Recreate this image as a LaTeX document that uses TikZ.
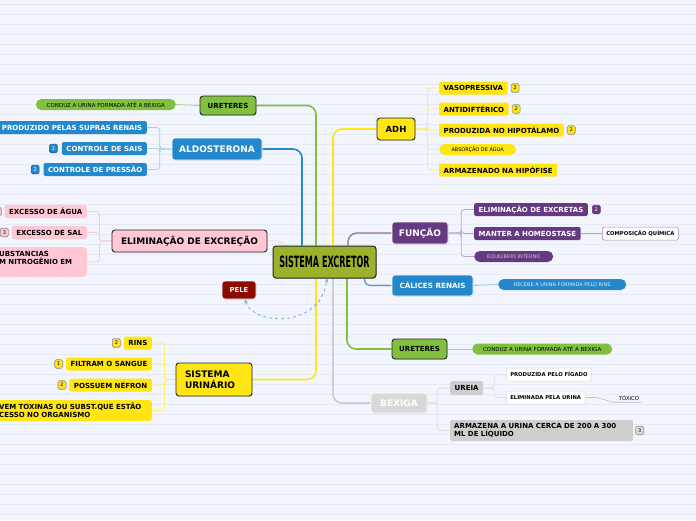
\documentclass[tikz,border=0pt]{standalone}
\usepackage{fontspec}
\setmainfont{DejaVu Sans}
\newfontfamily\condfont[FakeStretch=0.52]{DejaVu Sans}
\usepackage{xcolor}
\definecolor{paper}{RGB}{243,245,253}
\definecolor{ruleline}{RGB}{230,233,246}
\definecolor{mainolive}{RGB}{155,178,42}
\definecolor{cgreen}{RGB}{128,192,62}
\definecolor{cblue}{RGB}{36,136,204}
\definecolor{cyellow}{RGB}{255,229,20}
\definecolor{cpink}{RGB}{255,200,212}
\definecolor{cpurple}{RGB}{102,58,128}
\definecolor{cred}{RGB}{140,10,0}
\definecolor{cgray}{RGB}{206,206,206}
\definecolor{cgraylight}{RGB}{216,216,216}
\usetikzlibrary{arrows.meta,positioning,backgrounds,shadows}
\tikzset{
  >={Stealth[length=4pt,width=3.5pt]},
  shd/.style={drop shadow={opacity=0.2,shadow xshift=0.7pt,shadow yshift=-0.9pt}},
  core/.style={rectangle,draw=black!85,line width=1pt,rounded corners=3pt,fill=mainolive,minimum width=103pt,minimum height=32pt,font=\condfont\bfseries\fontsize{15.5}{16}\selectfont,shd},
  topic/.style={rectangle,draw=black!85,line width=0.9pt,rounded corners=3pt,inner sep=2pt,font=\bfseries\fontsize{9}{10.5}\selectfont,shd},
  topicw/.style={topic,draw=white,line width=0.6pt,text=white},
  item/.style={rectangle,rounded corners=2pt,inner xsep=4.5pt,inner ysep=1pt,minimum height=13pt,font=\bfseries\fontsize{7}{8.5}\selectfont},
  pill/.style={rectangle,rounded corners=5.5pt,inner xsep=5pt,inner ysep=1pt,minimum height=11pt,font=\fontsize{5.5}{6.5}\selectfont},
  leaf/.style={rectangle,rounded corners=1.5pt,fill=white,draw=black!15,line width=0.5pt,minimum height=13pt,inner xsep=4pt,font=\bfseries\fontsize{5.3}{6}\selectfont},
  badge/.style={rectangle,rounded corners=1.5pt,draw=black!45,line width=0.6pt,minimum width=8pt,minimum height=8.5pt,inner sep=0pt,font=\fontsize{5}{6}\selectfont},
  branch/.style={line width=1.6pt,rounded corners=9pt},
  twig/.style={line width=0.8pt,rounded corners=3pt},
  dashlink/.style={<->,dashed,line width=0.8pt,draw=cblue!70}
}

\begin{document}
\begin{tikzpicture}[x=1pt,y=-1pt]
  \useasboundingbox (0,0) rectangle (696,520);
  \begin{scope}[on background layer]
    \fill[paper] (0,0) rectangle (696,520);
    \foreach \yy in {4,14,...,514}
      \draw[ruleline,line width=0.6pt] (0,\yy) -- (696,\yy);
  \end{scope}

  % Central topic
  \node[core] (ctr) at (324.5,262) {SISTEMA EXCRETOR};

  % Left: ureteres
  \node[topic,fill=cgreen,minimum width=56pt,minimum height=19pt,font=\bfseries\fontsize{7}{8}\selectfont] (ur1) at (228,105.5) {URETERES};
  \node[pill,fill=cgreen,minimum width=140pt,anchor=east] (ur1c) at (176,104.5) {CONDUZ A URINA FORMADA ATÉ A BEXIGA};

  % Left: aldosterona
  \node[topicw,fill=cblue,minimum width=90pt,minimum height=22pt] (ald) at (217,149) {ALDOSTERONA};
  \node[item,fill=cblue,text=white,anchor=east] (a1) at (147,127.5) {PRODUZIDO PELAS SUPRAS RENAIS};
  \node[item,fill=cblue,text=white,anchor=east] (a2) at (147,148.5) {CONTROLE DE SAIS};
  \node[item,fill=cblue,text=white,anchor=east] (a3) at (147,169.5) {CONTROLE DE PRESSÃO};
  \node[badge,fill=cblue,draw=cblue!70!black,text=white,left=4pt of a2] (a2n) {2};
  \node[badge,fill=cblue,draw=cblue!70!black,text=white,left=4pt of a3] (a3n) {2};

  % Left: eliminacao
  \node[topic,fill=cpink,minimum width=155pt,minimum height=22pt] (elim) at (189.5,241) {ELIMINAÇÃO DE EXCREÇÃO};
  \node[item,fill=cpink,anchor=east] (e1) at (87,211.5) {EXCESSO DE ÁGUA};
  \node[item,fill=cpink,anchor=east] (e2) at (87,232.5) {EXCESSO DE SAL};
  \node[item,fill=cpink,anchor=west,align=left,text width=85pt,inner xsep=3pt,minimum height=30pt,rounded corners=4pt] (e3) at (-4,262) {UBSTANCIAS\\M NITROGÊNIO EM\\\mbox{}};
  \node[badge,fill=cpink,left=3pt of e1] (e1n) {2};
  \node[badge,fill=cpink,left=3pt of e2] (e2n) {3};

  % Left: sistema urinario
  \node[topic,fill=cyellow,text width=58pt,inner xsep=9pt,minimum height=33pt,align=left] (su) at (214,379.5) {SISTEMA\\URINÁRIO};
  \node[item,fill=cyellow,anchor=east] (s1) at (152,343) {RINS};
  \node[item,fill=cyellow,anchor=east] (s2) at (152,364) {FILTRAM O SANGUE};
  \node[item,fill=cyellow,anchor=east] (s3) at (152,385) {POSSUEM NÉFRON};
  \node[item,fill=cyellow,anchor=west,align=left,text width=150pt,inner xsep=3pt,minimum height=21pt,rounded corners=3pt] (s4) at (-4,410.5) {VEM TOXINAS OU SUBST.QUE ESTÃO\\CESSO NO ORGANISMO};
  \node[badge,fill=cyellow,left=3pt of s1] (s1n) {2};
  \node[badge,fill=cyellow,left=3pt of s2] (s2n) {1};
  \node[badge,fill=cyellow,left=3pt of s3] (s3n) {2};

  % Pele
  \node[topicw,fill=cred,minimum width=34pt,minimum height=18pt,font=\bfseries\fontsize{6.8}{8}\selectfont] (pele) at (239,290) {PELE};

  % Right: ADH
  \node[topic,fill=cyellow,minimum width=38pt,minimum height=22pt,font=\bfseries\fontsize{8.5}{10}\selectfont] (adh) at (396,129) {ADH};
  \node[item,fill=cyellow,anchor=west] (d1) at (439,88) {VASOPRESSIVA};
  \node[item,fill=cyellow,anchor=west] (d2) at (439,109) {ANTIDIFTÉRICO};
  \node[item,fill=cyellow,anchor=west] (d3) at (439,130) {PRODUZIDA NO HIPOTÁLAMO};
  \node[pill,fill=cyellow,minimum width=77pt,anchor=west,font=\fontsize{5}{6}\selectfont] (d4) at (439,149.5) {ABSORÇÃO DE ÁGUA};
  \node[item,fill=cyellow,anchor=west] (d5) at (439,170) {ARMAZENADO NA HIPÓFISE};
  \node[badge,fill=cyellow,right=3pt of d1] (d1n) {2};
  \node[badge,fill=cyellow,right=3pt of d2] (d2n) {2};
  \node[badge,fill=cyellow,right=3pt of d3] (d3n) {2};

  % Right: funcao
  \node[topicw,fill=cpurple,minimum width=56pt,minimum height=22pt] (fun) at (420,233) {FUNÇÃO};
  \node[item,fill=cpurple,text=white,anchor=west] (f1) at (474,209.5) {ELIMINAÇÃO DE EXCRETAS};
  \node[item,fill=cpurple,text=white,anchor=west] (f2) at (474,233.5) {MANTER A HOMEOSTASE};
  \node[pill,fill=cpurple,text=black!22,minimum width=79pt,anchor=west,font=\fontsize{5}{6}\selectfont] (f3) at (474,256.5) {EQUILÍBRIO INTERNO};
  \node[leaf,draw=cpurple!60,anchor=west] (f2c) at (602,233.5) {COMPOSIÇÃO QUÍMICA};
  \node[badge,fill=cpurple,draw=cpurple,text=white,right=4pt of f1] (f1n) {2};

  % Right: calices
  \node[topicw,fill=cblue,minimum width=81pt,minimum height=21pt,font=\bfseries\fontsize{7.2}{8.5}\selectfont] (cal) at (432.5,285.5) {CÁLICES RENAIS};
  \node[pill,fill=cblue,text=white!85!cblue,minimum width=128pt,anchor=west,font=\fontsize{5}{6}\selectfont] (calc) at (498,284.5) {RECEBE A URINA FORMADA PELO RINS};

  % Right: ureteres
  \node[topic,fill=cgreen,minimum width=55pt,minimum height=20pt,font=\bfseries\fontsize{7}{8}\selectfont] (ur2) at (419.5,349) {URETERES};
  \node[pill,fill=cgreen,minimum width=140pt,anchor=west] (ur2c) at (472,349) {CONDUZ A URINA FORMADA ATÉ A BEXIGA};

  % Right: bexiga
  \node[topicw,fill=cgraylight,minimum width=56pt,minimum height=20pt] (bex) at (399,403) {BEXIGA};
  \node[item,fill=cgray,anchor=west,minimum height=14pt] (x1) at (450,388) {UREIA};
  \node[item,fill=cgray,anchor=west,align=left,text width=175pt,inner xsep=4pt,minimum height=21pt] (x2) at (450,430.5) {ARMAZENA A URINA CERCA DE 200 A 300\\ML DE LÍQUIDO};
  \node[badge,fill=cgray!70,right=2pt of x2] (x2n) {3};
  \node[leaf,anchor=west] (y1) at (506,374.5) {PRODUZIDA PELO FÍGADO};
  \node[leaf,anchor=west] (y2) at (506,397.5) {ELIMINADA PELA URINA};
  \node[font=\fontsize{5.3}{6}\selectfont,inner sep=1.5pt] (tox) at (629,398) {TÓXICO};

  % Connectors
  \begin{scope}[on background layer]
    \draw[branch,cgreen] (ur1.east) -| ([xshift=-8.5pt]ctr.north);
    \draw[branch,cblue] (ald.east) -| ([xshift=-22.5pt]ctr.north);
    \draw[branch,cpink!80,line width=1pt] (elim.east) .. controls +(12,0) and +(-6,-6) .. ([xshift=12pt]ctr.north west);
    \draw[branch,cyellow] (su.east) -| ([xshift=-8.5pt]ctr.south);
    \draw[branch,cyellow] (adh.west) -| ([xshift=8.5pt]ctr.north);
    \draw[branch,cgray] (bex.west) -| ([xshift=8.5pt]ctr.south);
    \draw[branch,cgreen] (ur2.west) -| ([xshift=22.5pt]ctr.south);
    \draw[branch,cpurple!75,line width=1.2pt] (fun.west) -| ([xshift=23.5pt]ctr.north);
    \draw[branch,cblue!85,line width=1.2pt,rounded corners=6pt] (cal.west) -| ([xshift=40pt]ctr.south);

    \foreach \c in {a1,a2,a3}
      \draw[twig,cblue!40] (ald.west) -- ++(-12,0) |- (\c.east);
    \foreach \c in {e1,e2,e3}
      \draw[twig,cpink] (elim.west) -- ++(-12,0) |- (\c.east);
    \foreach \c in {s1,s2,s3,s4}
      \draw[twig,cyellow!60] (su.west) -- ++(-11,0) |- (\c.east);
    \foreach \c in {d1,d2,d3,d4,d5}
      \draw[twig,cyellow!60] (adh.east) -- ++(12,0) |- (\c.west);
    \foreach \c in {f1,f2,f3}
      \draw[twig,cpurple!45] (fun.east) -- ++(13,0) |- (\c.west);
    \foreach \c in {x1,x2}
      \draw[twig,cgray!70] (bex.east) -- ++(10,0) |- (\c.west);
    \foreach \c in {y1,y2}
      \draw[twig,cgray!60] (x1.east) -- ++(11,0) |- (\c.west);
    \draw[twig,cpurple!45] (f2.east) -- (f2c.west);
    \draw[twig,cblue!45] (cal.east) -- (calc.west);
    \draw[twig,cgreen!70] (ur2.east) -- (ur2c.west);
    \draw[twig,cgreen!70] (ur1c.east) -- (ur1.west);
    \draw[twig,black!25,line width=0.6pt,rounded corners=0pt] (y2.east) -- ++(11,0) -- ([xshift=-16pt]tox.south) -- ([xshift=12pt]tox.south);
  \end{scope}

  % Pele link
  \draw[dashlink] ([xshift=6pt]pele.south) .. controls (252,325) and (320,330) .. ([xshift=2.5pt]ctr.south);
\end{tikzpicture}
\end{document}
